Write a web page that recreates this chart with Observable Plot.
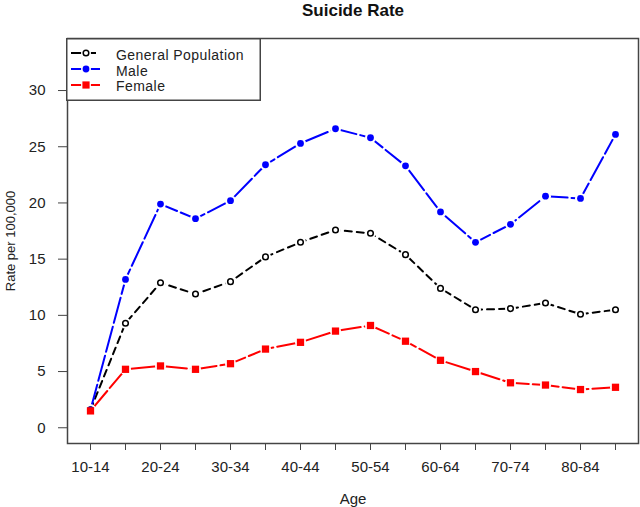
<!DOCTYPE html>
<html><head><meta charset="utf-8">
<script src="https://cdn.jsdelivr.net/npm/d3@7"></script>
<script src="https://cdn.jsdelivr.net/npm/@observablehq/plot@0.6"></script>
<style>
body{margin:0;background:#fff}
#wrap{position:relative;width:640px;height:507px}
#legend{position:absolute;left:66px;top:38px}
</style>
</head><body><div id="wrap"></div>
<script>
const ages = ["10-14","15-19","20-24","25-29","30-34","35-39","40-44","45-49","50-54","55-59","60-64","65-69","70-74","75-79","80-84","85+"];
const xLabels = ["10-14","20-24","30-34","40-44","50-54","60-64","70-74","80-84"];
const yTicks = [0,5,10,15,20,25,30];
const general = [1.6, 9.3, 12.9, 11.9, 13.0, 15.2, 16.5, 17.6, 17.3, 15.4, 12.4, 10.5, 10.6, 11.1, 10.1, 10.5];
const male    = [1.6, 13.2, 19.9, 18.6, 20.2, 23.4, 25.3, 26.6, 25.8, 23.3, 19.2, 16.5, 18.1, 20.6, 20.4, 26.1];
const female  = [1.5, 5.2, 5.5, 5.2, 5.7, 7.0, 7.6, 8.6, 9.1, 7.7, 6.0, 5.0, 4.0, 3.8, 3.4, 3.6];
const seriesNames = ["General Population","Male","Female"];

const toRows = (vals) => ages.map((a,i)=>({age:a, value:vals[i]}));
const gRows = toRows(general), mRows = toRows(male), fRows = toRows(female);
const allRows = [...gRows, ...mRows, ...fRows];

const font = "'Liberation Sans', Arial, Helvetica, sans-serif";
const chart = Plot.plot({
  width:640, height:507,
  marginLeft:67, marginRight:2, marginTop:38, marginBottom:64,
  style:{fontFamily:font, fontSize:"15px", color:"#222", background:"#fff"},
  x:{type:"point", domain:ages, padding:0.6},
  y:{domain:[-1.4,34.63]},
  marks:[
    Plot.axisY({ticks:yTicks, tickSize:9, tickPadding:13, label:null, stroke:"#444", fill:"#222", fontSize:15}),
    Plot.axisX({ticks:ages, tickSize:7, tickPadding:11, label:null, stroke:"#444", fill:"#222", fontSize:15,
      tickFormat:d => xLabels.includes(d) ? d : ""}),
    Plot.line(gRows, {x:"age", y:"value", stroke:"black", strokeWidth:2, strokeDasharray:"7,5"}),
    Plot.line(mRows, {x:"age", y:"value", stroke:"#0000ff", strokeWidth:2, strokeDasharray:"26,4"}),
    Plot.line(fRows, {x:"age", y:"value", stroke:"#ff0000", strokeWidth:2, strokeDasharray:"26,4"}),
    Plot.dot(allRows, {x:"age", y:"value", r:5.5, fill:"white", stroke:null}),
    Plot.dot(gRows, {x:"age", y:"value", r:2.8, fill:"white", stroke:"black", strokeWidth:1.5}),
    Plot.dot(mRows, {x:"age", y:"value", r:3.4, fill:"#0000ff", stroke:null}),
    Plot.dot(fRows, {x:"age", y:"value", r:4.1, symbol:"square", fill:"#ff0000", stroke:null}),
    Plot.frame({stroke:"#444", strokeWidth:1.5}),
    Plot.text(["Suicide Rate"], {frameAnchor:"top", dy:-23, lineAnchor:"bottom", textAnchor:"middle", fontWeight:"bold", fontSize:17, fill:"#111"}),
    Plot.text(["Age"], {frameAnchor:"bottom", dy:60, lineAnchor:"bottom", textAnchor:"middle", fontSize:15, fill:"#222"}),
    Plot.text(["Rate per 100,000"], {frameAnchor:"left", dx:-53, rotate:-90, lineAnchor:"bottom", textAnchor:"middle", fontSize:13, fill:"#222"})
  ]
});
const wrap = document.getElementById("wrap");
wrap.appendChild(chart);

// legend
const leg = d3.select(wrap).append("svg").attr("id","legend").attr("width",195).attr("height",63);
leg.append("rect").attr("x",0.75).attr("y",0.75).attr("width",193.5).attr("height",61.5)
  .attr("fill","white").attr("stroke","#444").attr("stroke-width",1.5);
const items = [
  {name:seriesNames[0], color:"black", ly:15, ty:21.8},
  {name:seriesNames[1], color:"#0000ff", ly:31, ty:37.5},
  {name:seriesNames[2], color:"#ff0000", ly:47, ty:53.2}
];
items.forEach((it,i)=>{
  leg.append("line").attr("x1",5).attr("x2",i===0?30:34).attr("y1",it.ly).attr("y2",it.ly)
    .attr("stroke",it.color).attr("stroke-width",2);
  leg.append("circle").attr("cx",20).attr("cy",it.ly).attr("r",5).attr("fill","white");
  if(i===0) leg.append("circle").attr("cx",20).attr("cy",it.ly).attr("r",2.8).attr("fill","white").attr("stroke","black").attr("stroke-width",1.5);
  if(i===1) leg.append("circle").attr("cx",20).attr("cy",it.ly).attr("r",3.4).attr("fill",it.color);
  if(i===2) leg.append("rect").attr("x",16.4).attr("y",it.ly-3.6).attr("width",7.2).attr("height",7.2).attr("fill",it.color);
  leg.append("text").attr("x",50).attr("y",it.ty).text(it.name)
    .attr("font-family",font).attr("font-size",14).attr("letter-spacing",0.45).attr("fill","#222");
});
</script></body></html>
